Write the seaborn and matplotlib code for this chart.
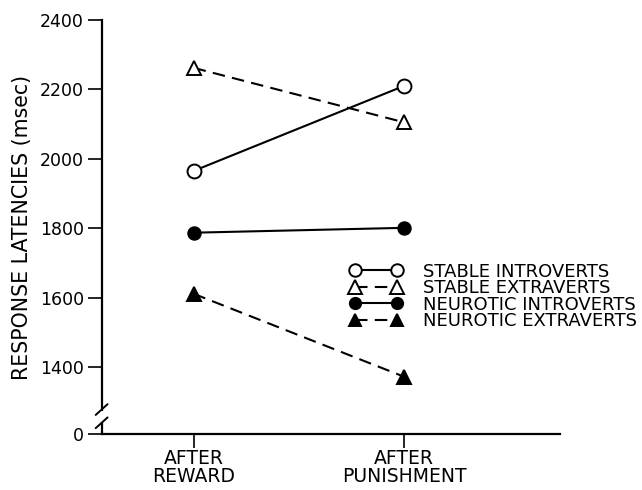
import matplotlib
matplotlib.use("Agg")
import matplotlib.pyplot as plt
import seaborn as sns
import pandas as pd

conditions = ["AFTER\nREWARD", "AFTER\nPUNISHMENT"]
series_names = ["STABLE INTROVERTS", "STABLE EXTRAVERTS", "NEUROTIC INTROVERTS", "NEUROTIC EXTRAVERTS"]
stable_introverts = [1965, 2210]
stable_extraverts = [2262, 2105]
neurotic_introverts = [1787, 1801]
neurotic_extraverts = [1611, 1372]
ytick_values = [1400, 1600, 1800, 2000, 2200, 2400]

sns.set_theme(style="white")
plt.rcParams["font.family"] = ["DejaVu Sans"]

fig = plt.figure(figsize=(6.42, 4.9), dpi=100)
ax = fig.add_axes([0.159, 0.1143, 0.713, 0.845])

dash = (0, (6, 3.5))
styles = [
    dict(marker="o", markerfacecolor="white", linestyle="-", markersize=10),
    dict(marker="^", markerfacecolor="white", linestyle=dash, markersize=10.5),
    dict(marker="o", markerfacecolor="black", linestyle="-", markersize=9),
    dict(marker="^", markerfacecolor="black", linestyle=dash, markersize=10),
]
values = [stable_introverts, stable_extraverts, neurotic_introverts, neurotic_extraverts]

for name, vals, st in zip(series_names, values, styles):
    df = pd.DataFrame({"x": [0, 1], "y": vals})
    sns.lineplot(data=df, x="x", y="y", ax=ax, color="black", linewidth=1.5,
                 markeredgecolor="black", markeredgewidth=1.4,
                 label=name, **st)

ymin = 1207
ax.set_ylim(ymin, 2400)
ax.set_xlim(-0.435, 1.74)
ax.set_yticks([ymin] + ytick_values)
ax.set_yticklabels(["0"] + [str(v) for v in ytick_values], fontsize=12.5)
ax.set_xticks([0, 1])
ax.set_xticklabels(conditions, fontsize=13.5, linespacing=0.9)
ax.set_xlabel("")
ax.set_ylabel("RESPONSE LATENCIES (msec)", fontsize=14.8, labelpad=6)

for s in ["top", "right"]:
    ax.spines[s].set_visible(False)
for s in ["left", "bottom"]:
    ax.spines[s].set_color("black")
    ax.spines[s].set_linewidth(1.6)
ax.tick_params(axis="y", direction="out", length=10, width=1.2, color="black", pad=3, left=True, labelcolor="black")
ax.tick_params(axis="x", direction="out", length=10, width=1.2, color="black", pad=1, bottom=True, labelcolor="black")
ax.yaxis.label.set_color("black")

# axis break marks
ax.plot([0, 0], [0.03, 0.056], transform=ax.transAxes, color="white",
        linewidth=3, clip_on=False, zorder=5, solid_capstyle="butt")
for y0 in [0.014, 0.046]:
    ax.plot([-0.014, 0.012], [y0, y0 + 0.026], transform=ax.transAxes,
            color="black", linewidth=1.4, clip_on=False, zorder=6)

leg = ax.legend(loc="upper left", bbox_to_anchor=(0.54, 0.414), frameon=False,
                numpoints=2, handlelength=2.95, handletextpad=1.15, labelspacing=-0.08,
                fontsize=13, borderpad=0, borderaxespad=0, markerscale=0.9)
for t in leg.get_texts():
    t.set_color("black")

fig.savefig("out.png", dpi=100)
